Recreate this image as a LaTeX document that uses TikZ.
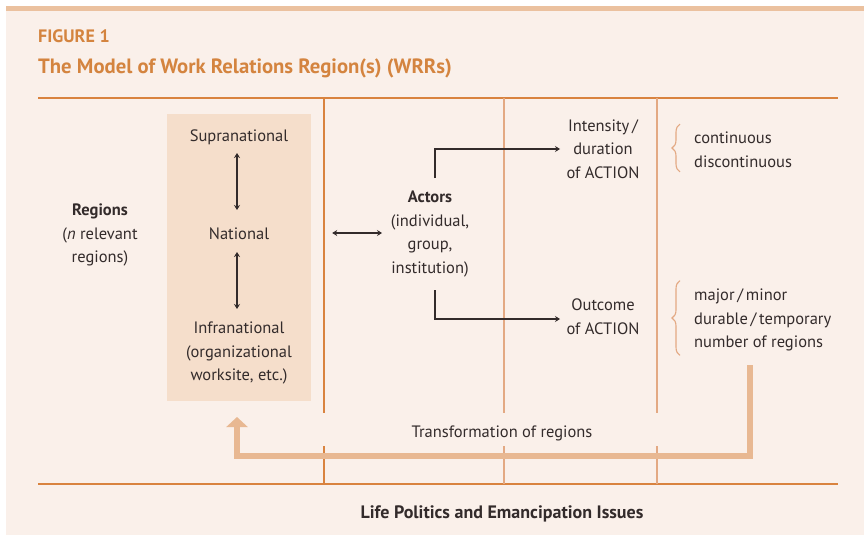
\documentclass[tikz,border=0pt]{standalone}
\usepackage{fontspec}
\setmainfont{PT Sans}
\usetikzlibrary{arrows.meta,decorations.pathreplacing,calc}
\definecolor{bgc}{HTML}{FAF0EA}
\definecolor{barc}{HTML}{EBC19F}
\definecolor{boxc}{HTML}{F5DECB}
\definecolor{thickc}{HTML}{E8B892}
\definecolor{orline}{HTML}{D9833F}
\definecolor{tanline}{HTML}{E3A983}
\definecolor{titlec}{HTML}{D4843F}
\definecolor{txt}{HTML}{332B2B}
\tikzset{
  lbl/.style={inner sep=0pt, align=center, text=txt, font=\fontsize{16.5}{23.5}\selectfont},
  lbll/.style={lbl, align=left, anchor=west},
  orl/.style={draw=orline, line width=1.3pt},
  tanl/.style={draw=tanline, line width=1.6pt},
  blk/.style={draw=txt, line width=1.2pt, -{Stealth[length=5pt,width=6pt]}},
  dblk/.style={draw=txt, line width=1.2pt, {Stealth[length=5pt,width=6pt]}-{Stealth[length=5pt,width=6pt]}},
  brc/.style={draw=tanline, line width=1.1pt, decorate, decoration={brace, amplitude=8pt}},
  thk/.style={draw=thickc, line width=6pt, -{Triangle[width=21pt,length=10pt]}}
}
\begin{document}
\begin{tikzpicture}[x=1pt,y=-1pt]
\useasboundingbox (0,0) rectangle (864,535);
% background
\fill[white] (0,0) rectangle (864,535);
\fill[bgc] (6,6) rectangle (864,535);
\fill[barc] (6,6) rectangle (864,11);
% title
\node[anchor=base west, inner sep=0pt, text=titlec, font=\bfseries\fontsize{18}{20}\selectfont] (fig) at (38,43) {FIGURE 1};
\node[anchor=base west, inner sep=0pt, text=titlec, font=\bfseries\fontsize{20.7}{22}\selectfont] (ttl) at (38,74) {The Model of Work Relations Region(s) (WRRs)};
% frame lines
\draw[orl] (38,98) -- (838,98);
\draw[orl] (38,484) -- (838,484);
\draw[orl] (324,98) -- (324,413);
\draw[orl] (324,446) -- (324,484);
\draw[tanl] (504,98) -- (504,413);
\draw[tanl] (504,446) -- (504,484);
\draw[tanl] (657,98) -- (657,413);
\draw[tanl] (657,446) -- (657,484);
% region box
\node[fill=boxc, minimum width=144pt, minimum height=287pt, inner sep=0pt] (box) at (239,257.5) {};
\node[lbl] (sup) at (239,137) {Supranational};
\node[lbl] (nat) at (239,234) {National};
\node[lbl] (inf) at (239,353) {Infranational\\(organizational\\worksite, etc.)};
\draw[dblk] ($(sup.center)+(-2,16)$) -- ($(nat.center)+(-2,-24)$);
\draw[dblk] ($(nat.center)+(-2,18)$) -- ($(inf.center)+(-2,-44)$);
% regions label
\node[lbl] (reg) at (100,235) {\textbf{Regions}\\(\textit{n} relevant\\regions)};
% actors
\node[lbl] (act) at (430,234) {\textbf{Actors}\\(individual,\\group,\\institution)};
\draw[dblk] ($(box.east |- act.center)+(21,-1)$) -- ($(act.center)+(-48,-1)$);
% outcomes
\node[lbl] (int) at (603,149) {Intensity\,/\\duration\\of ACTION};
\node[lbl] (out) at (603,316.5) {Outcome\\of ACTION};
\draw[blk] ($(act.center)+(5,-56)$) |- ($(int.center)+(-43,0)$);
\draw[blk] ($(act.center)+(5,56)$) |- ($(out.center)+(-43,2.5)$);
% right column
\node[lbll] (cont) at (694,150) {continuous\\discontinuous};
\node[lbll] (maj) at (694,320) {major\,/\,minor\\durable\,/\,temporary\\number of regions};
\draw[brc] ($(cont.south west)+(-14,4)$) -- ($(cont.north west)+(-14,-8)$);
\draw[brc] ($(maj.south west)+(-14,4)$) -- ($(maj.north west)+(-14,-8)$);
% transformation
\node[lbl] (tr) at (502,433) {Transformation of regions};
\coordinate (tstart) at (749.5,365);
\coordinate (tcorner) at (237,455.5);
\coordinate (tend) at (237,417);
\draw[thk] (tstart) |- (tcorner) -- (tend);
% bottom
\node[lbl, font=\bfseries\fontsize{18}{20}\selectfont] (life) at (502,514) {Life Politics and Emancipation Issues};
\end{tikzpicture}
\end{document}
